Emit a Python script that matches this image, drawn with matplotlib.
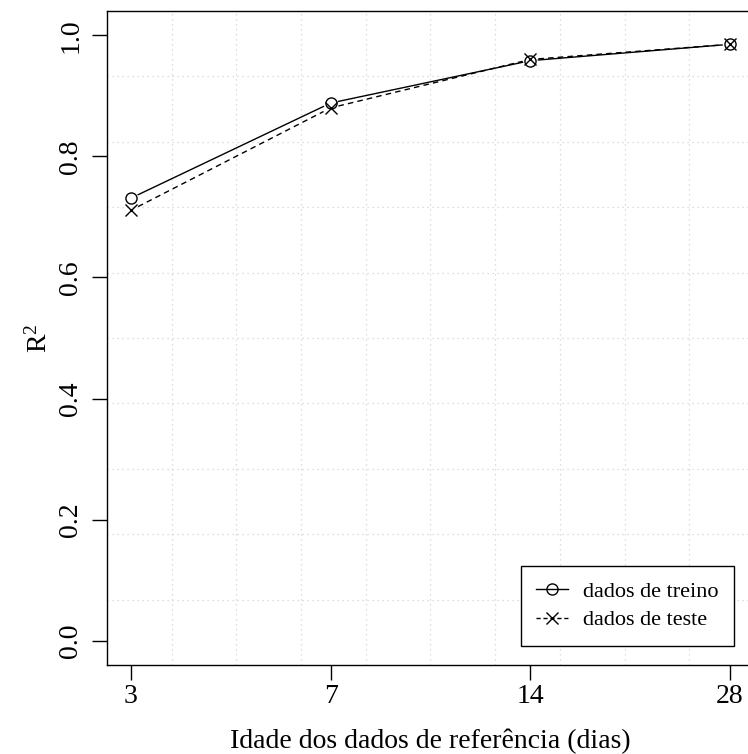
import numpy as np
import matplotlib
matplotlib.use("Agg")
import matplotlib.pyplot as plt

# R2 por idade dos dados de referencia
idades = ["3", "7", "14", "28"]
r2_treino = [0.731, 0.888, 0.958, 0.985]
r2_teste = [0.711, 0.880, 0.960, 0.985]

plt.rcParams["font.family"] = ["Liberation Serif", "DejaVu Serif"]
plt.rcParams["mathtext.fontset"] = "custom"
plt.rcParams["mathtext.rm"] = "Liberation Serif"
plt.rcParams["mathtext.it"] = "Liberation Serif:italic"

FS = 20
FS_LEG = 16


def gapped_line(ax, x, y, gap_px, **kw):
    # emulate R type="b": segments stop short of the points
    pts = ax.transData.transform(np.column_stack([x, y]))
    inv = ax.transData.inverted()
    for p0, p1 in zip(pts[:-1], pts[1:]):
        d = p1 - p0
        u = d / np.hypot(*d)
        a = inv.transform(p0 + u * gap_px)
        b = inv.transform(p1 - u * gap_px)
        ax.plot([a[0], b[0]], [a[1], b[1]], **kw)


fig = plt.figure(figsize=(7.48, 7.54), dpi=100)
ax = fig.add_axes([107 / 748, 89 / 754, 647 / 748, 654 / 754])

xpos = np.arange(1, len(idades) + 1)
xlim = (0.88, 4.12)
ylim = (-0.04, 1.04)
ax.set_xlim(*xlim)
ax.set_ylim(*ylim)

for gx in np.linspace(*xlim, 11)[1:-1]:
    ax.axvline(gx, color="#d3d3d3", lw=0.9, ls=(0, (1, 3)), zorder=0)
for gy in np.linspace(*ylim, 11)[1:-1]:
    ax.axhline(gy, color="#d3d3d3", lw=0.9, ls=(0, (1, 3)), zorder=0)

gapped_line(ax, xpos, r2_treino, 8, color="black", lw=1.0, ls="-")
gapped_line(ax, xpos, r2_teste, 8, color="black", lw=1.0, ls=(0, (4, 3)))
ax.plot(xpos, r2_treino, "o", ms=8, mfc="none", mec="black", mew=1.0)
ax.plot(xpos, r2_teste, "x", ms=8, mec="black", mew=1.0)

# legend handles
h1, = ax.plot([], [], color="black", lw=1.0, ls="-", marker="o", ms=8,
              mfc="none", mew=1.0)
h2, = ax.plot([], [], color="black", lw=1.0, ls=(0, (3, 2)), marker="x",
              ms=8, mew=1.0)
leg = ax.legend([h1, h2], ["dados de treino", "dados de teste"],
                loc="lower right", bbox_to_anchor=(0.969, 0.029),
                borderaxespad=0, fancybox=False, framealpha=1,
                edgecolor="black", fontsize=FS_LEG, handlelength=1.45,
                handletextpad=0.65, borderpad=0.7, labelspacing=0.35)
leg.get_frame().set_linewidth(1.0)

ax.set_xticks(xpos)
ax.set_xticklabels(idades)
ax.set_yticks([0.0, 0.2, 0.4, 0.6, 0.8, 1.0])
ax.set_yticklabels(["0.0", "0.2", "0.4", "0.6", "0.8", "1.0"],
                   rotation=90, va="center")
ax.tick_params(axis="both", labelsize=FS, length=11, width=1.0,
               direction="out")
ax.tick_params(axis="x", pad=3)
ax.tick_params(axis="y", pad=6)

for s in ax.spines.values():
    s.set_linewidth(1.0)

ax.set_xlabel("Idade dos dados de referência (dias)", fontsize=FS,
              labelpad=14)
ax.set_ylabel(r"$\mathrm{R}^2$", fontsize=FS, labelpad=4)

fig.savefig("out.png", dpi=100)
